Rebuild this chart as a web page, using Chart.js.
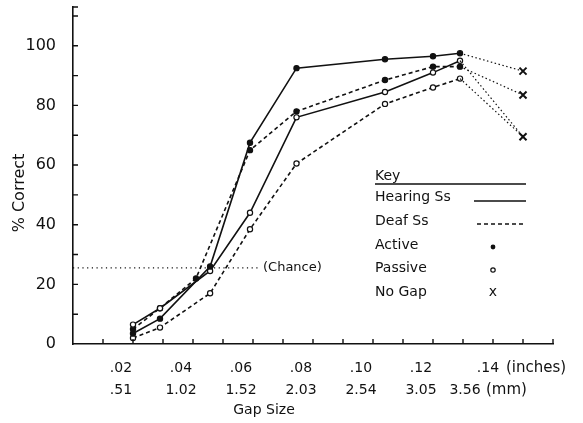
<!DOCTYPE html>
<html>
<head>
<meta charset="utf-8">
<script src="https://cdn.jsdelivr.net/npm/chart.js@4/dist/chart.umd.min.js"></script>
<style>
  html, body { margin: 0; padding: 0; background: #fff; }
  #wrap { width: 583px; height: 423px; }
</style>
</head>
<body>
<div id="wrap"><canvas id="chartGap"></canvas></div>
<script>
// gap sizes in inches (x positions of the points)
const gapInches = [0.02, 0.029, 0.0457, 0.059, 0.0745, 0.104, 0.12, 0.129];
const deafActiveGaps = [0.02, 0.029, 0.041, 0.059, 0.0745, 0.104, 0.12, 0.129];

// % correct
const hearingActive = [3.5, 8.5, 26, 67.5, 92.5, 95.5, 96.5, 97.5];
const hearingPassive = [6.5, 12, 24.5, 44, 76, 84.5, 91, 95];
const deafActive = [5, 12, 22, 65, 78, 88.5, 93, 93];
const deafPassive = [2, 5.5, 17, 38.5, 60.5, 80.5, 86, 89];

// no gap condition
const noGapInches = 0.15;
const noGapHearingActive = 91.5;
const noGapDeafActive = 83.5;
const noGapPassive = 69.5;

const chanceLevel = 25.5;
const chanceEnd = 0.062;

// tick labels
const inchLabels = [".02", ".04", ".06", ".08", ".10", ".12", ".14"];
const mmLabels = [".51", "1.02", "1.52", "2.03", "2.54", "3.05", "3.56"];
const labelValues = [0.02, 0.04, 0.06, 0.08, 0.1, 0.12, 0.14];

const ink = "#111";
const font = "DejaVu Sans";

const toPoints = (xs, ys) => xs.map((x, i) => ({ x: x, y: ys[i] }));
const last = (arr) => arr[arr.length - 1];

const mainLine = (data, dashed, filled) => ({
  data: data,
  borderColor: ink,
  borderWidth: 1.6,
  borderDash: dashed ? [4, 3] : [],
  pointStyle: "circle",
  pointRadius: 2.6,
  pointBackgroundColor: filled ? ink : "#fff",
  pointBorderColor: ink,
  pointBorderWidth: 1.2,
  tension: 0,
});

const connector = (fromY, toY) => ({
  data: [
    { x: last(gapInches), y: fromY },
    { x: noGapInches, y: toY },
  ],
  borderColor: ink,
  borderWidth: 1.2,
  borderDash: [1.5, 2.5],
  pointRadius: 0,
});

const datasets = [
  {
    data: [
      { x: 0, y: chanceLevel },
      { x: chanceEnd, y: chanceLevel },
    ],
    borderColor: ink,
    borderWidth: 1.2,
    borderDash: [1.2, 3.5],
    pointRadius: 0,
  },
  connector(last(hearingActive), noGapHearingActive),
  connector(last(deafActive), noGapDeafActive),
  connector(last(hearingPassive), noGapPassive),
  connector(last(deafPassive), noGapPassive),
  mainLine(toPoints(gapInches, hearingActive), false, true),
  mainLine(toPoints(gapInches, hearingPassive), false, false),
  mainLine(toPoints(deafActiveGaps, deafActive), true, true),
  mainLine(toPoints(gapInches, deafPassive), true, false),
  {
    data: [
      { x: noGapInches, y: noGapHearingActive },
      { x: noGapInches, y: noGapDeafActive },
      { x: noGapInches, y: noGapPassive },
    ],
    showLine: false,
    pointStyle: "crossRot",
    pointRadius: 5,
    pointBorderWidth: 2,
    pointBorderColor: ink,
  },
];

// extra drawing: inward ticks, two-row x labels, titles, key
const extras = {
  id: "extras",
  afterDraw(chart) {
    const { ctx, chartArea, scales } = chart;
    const xs = scales.x;
    const ys = scales.y;
    ctx.save();
    ctx.strokeStyle = ink;
    ctx.fillStyle = ink;
    ctx.lineWidth = 1.4;

    // ticks pointing into the plot
    ctx.beginPath();
    for (let i = 1; i <= 16; i++) {
      const px = xs.getPixelForValue(i / 100);
      ctx.moveTo(px, chartArea.bottom);
      ctx.lineTo(px, chartArea.bottom - 5);
    }
    for (let v = 10; v <= 110; v += 10) {
      const py = ys.getPixelForValue(v);
      ctx.moveTo(chartArea.left, py);
      ctx.lineTo(chartArea.left + 5, py);
    }
    ctx.moveTo(chartArea.left, chartArea.top);
    ctx.lineTo(chartArea.left + 5, chartArea.top);
    ctx.stroke();

    // x labels, inches and mm rows
    ctx.font = "14px '" + font + "'";
    ctx.textBaseline = "middle";
    ctx.textAlign = "center";
    labelValues.forEach((v, i) => {
      const px = xs.getPixelForValue(v);
      if (i < labelValues.length - 1) {
        ctx.fillText(inchLabels[i], px - 12, 368);
        ctx.fillText(mmLabels[i], px - 12, 390);
      }
    });
    const pLast = xs.getPixelForValue(last(labelValues));
    ctx.fillText(last(inchLabels), pLast - 5, 368);
    ctx.fillText(last(mmLabels), pLast - 28, 390);
    ctx.textAlign = "left";
    ctx.font = "15px '" + font + "'";
    ctx.fillText("(inches)", pLast + 13, 368);
    ctx.fillText("(mm)", pLast - 7, 390);

    ctx.textAlign = "center";
    ctx.font = "14px '" + font + "'";
    ctx.fillText("Gap Size", 264, 410);

    // y title
    ctx.save();
    ctx.translate(20, 193);
    ctx.rotate(-Math.PI / 2);
    ctx.font = "16px '" + font + "'";
    ctx.fillText("% Correct", 0, 0);
    ctx.restore();

    // chance label
    ctx.textAlign = "left";
    ctx.font = "13px '" + font + "'";
    ctx.fillText("(Chance)", xs.getPixelForValue(chanceEnd) + 4, ys.getPixelForValue(chanceLevel));

    // key
    ctx.font = "14px '" + font + "'";
    ctx.fillText("Key", 375, 176);
    ctx.fillText("Hearing Ss", 375, 197);
    ctx.fillText("Deaf Ss", 375, 221);
    ctx.fillText("Active", 375, 245);
    ctx.fillText("Passive", 375, 268);
    ctx.fillText("No Gap", 375, 292);
    ctx.textAlign = "center";
    ctx.fillText("x", 493, 292);

    ctx.lineWidth = 1.4;
    ctx.beginPath();
    ctx.moveTo(375, 184);
    ctx.lineTo(526, 184);
    ctx.moveTo(474, 201);
    ctx.lineTo(526, 201);
    ctx.stroke();
    ctx.setLineDash([4, 3]);
    ctx.beginPath();
    ctx.moveTo(477, 224);
    ctx.lineTo(526, 224);
    ctx.stroke();
    ctx.setLineDash([]);

    ctx.beginPath();
    ctx.arc(493, 247, 2.4, 0, Math.PI * 2);
    ctx.fill();
    ctx.lineWidth = 1.2;
    ctx.beginPath();
    ctx.arc(493, 270, 2.2, 0, Math.PI * 2);
    ctx.stroke();

    ctx.restore();
  },
};

new Chart(document.getElementById("chartGap"), {
  type: "line",
  data: { datasets: datasets },
  options: {
    responsive: true,
    maintainAspectRatio: false,
    animation: false,
    layout: {
      padding: { top: 6, right: 30, left: 0, bottom: 0 },
    },
    scales: {
      x: {
        type: "linear",
        min: 0,
        max: 0.16,
        grid: { display: false },
        border: { color: ink, width: 1.6 },
        ticks: { display: false, stepSize: 0.01 },
        afterFit(scale) {
          scale.height = 79;
          scale.paddingLeft = 0;
          scale.paddingRight = 0;
        },
      },
      y: {
        min: 0,
        max: 113,
        grid: { display: false, drawTicks: false },
        border: { color: ink, width: 1.6 },
        ticks: {
          stepSize: 10,
          padding: 17,
          color: ink,
          font: { size: 16, family: font },
          callback: (v) => (v % 20 === 0 && v <= 100 ? v : ""),
        },
        afterFit(scale) {
          scale.width = 73;
          scale.paddingTop = 0;
          scale.paddingBottom = 0;
        },
      },
    },
    plugins: {
      legend: { display: false },
      tooltip: { enabled: false },
    },
  },
  plugins: [extras],
});
</script>
</body>
</html>
